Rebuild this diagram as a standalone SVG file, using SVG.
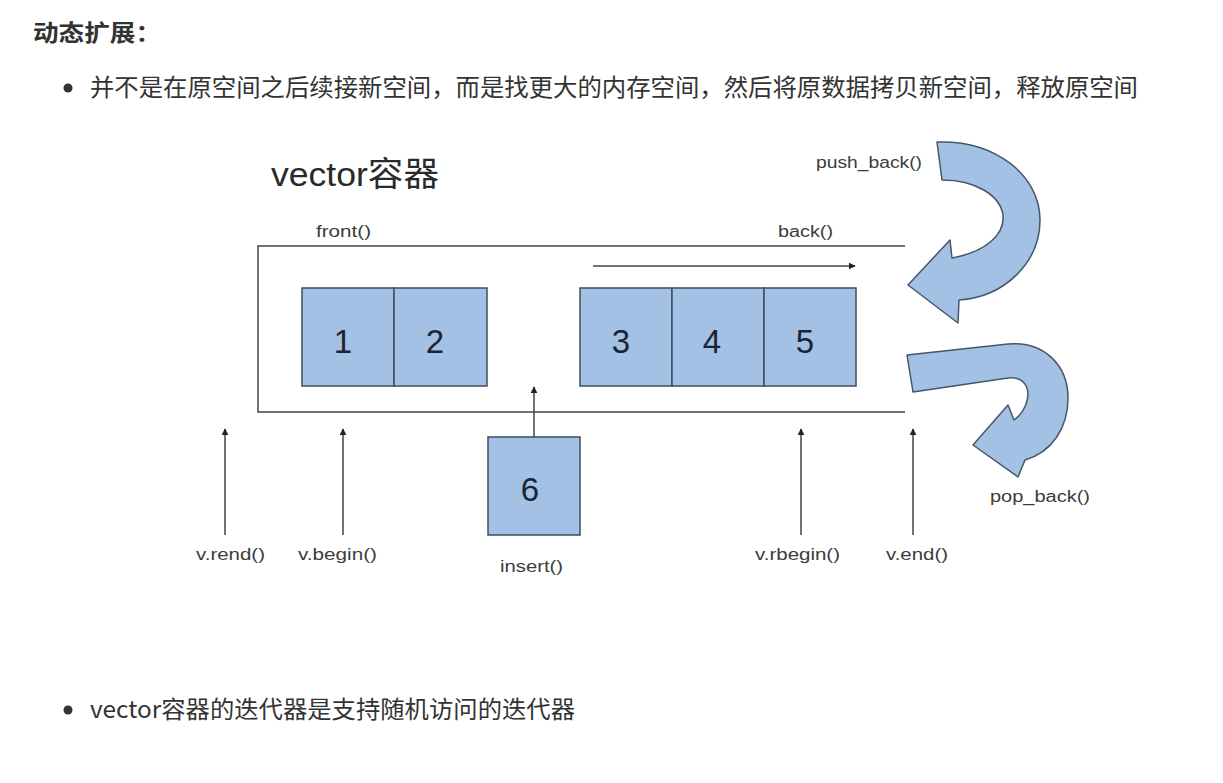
<svg xmlns="http://www.w3.org/2000/svg" width="1223" height="783" viewBox="0 0 1223 783">
<style>
.cn{font-family:"Noto Sans CJK SC","Noto Sans",sans-serif;fill:#333;}
.lbl{font-family:"Liberation Sans",Arial,sans-serif;font-size:16px;fill:#3c3c3c;}
.num{font-family:"Liberation Sans",Arial,sans-serif;font-size:33px;fill:#1c2433;text-anchor:middle;}
.cell{fill:#a3c1e4;stroke:#3f4c5c;stroke-width:1.5;}
.ln{stroke:#444;stroke-width:1.5;fill:none;}
.big{fill:#a3c1e4;stroke:#46566a;stroke-width:1.5;stroke-linejoin:round;}
</style>
<defs>
<marker id="ah" viewBox="0 0 10 10" refX="9" refY="5" markerWidth="7" markerHeight="7" markerUnits="userSpaceOnUse" orient="auto">
<path d="M0,0 L10,5 L0,10 Z" fill="#222"/>
</marker>
</defs>
<rect width="1223" height="783" fill="#fff"/>

<g id="heading">
<text class="cn" x="33" y="41" font-size="23" font-weight="bold" textLength="128" lengthAdjust="spacingAndGlyphs">动态扩展：</text>
<circle cx="68" cy="88" r="4.5" fill="#333"/>
<text class="cn" x="90" y="96" font-size="24" textLength="1048" lengthAdjust="spacingAndGlyphs">并不是在原空间之后续接新空间，而是找更大的内存空间，然后将原数据拷贝新空间，释放原空间</text>
</g>

<g id="title">
<text x="271" y="186" font-family="Liberation Sans, Arial, Noto Sans CJK SC, sans-serif" font-size="34" fill="#2a2a2a" textLength="168" lengthAdjust="spacingAndGlyphs">vector容器</text>
</g>

<g id="frame">
<path class="ln" d="M905,246 L258,246 L258,412 L905,412"/>
</g>

<g id="cell-1"><rect class="cell" x="302" y="288" width="92" height="98"/><text class="num" x="343" y="353">1</text></g>
<g id="cell-2"><rect class="cell" x="394" y="288" width="93" height="98"/><text class="num" x="435" y="353">2</text></g>
<g id="cell-3"><rect class="cell" x="580" y="288" width="92" height="98"/><text class="num" x="621" y="353">3</text></g>
<g id="cell-4"><rect class="cell" x="672" y="288" width="92" height="98"/><text class="num" x="712" y="353">4</text></g>
<g id="cell-5"><rect class="cell" x="764" y="288" width="92" height="98"/><text class="num" x="805" y="353">5</text></g>
<g id="cell-6"><rect class="cell" x="488" y="437" width="92" height="98"/><text class="num" x="530" y="501">6</text></g>

<g id="push-back-arrow">
<path class="big" d="M937,142 C995,140 1040,175 1040,220 C1040,262 1005,297 959,300 L958,323 L908,285 L950,240 L952,258 C985,252 1005,235 1003,215 C1000,195 975,180 942,180 Z"/>
</g>
<g id="pop-back-arrow">
<path class="big" d="M907,355 L1008,344 C1045,341 1068,366 1068,398 C1068,428 1052,452 1025,460 L1018,477 L973,445 L1008,405 L1014,420 C1025,412 1030,398 1027,388 C1024,380 1018,377 1008,378 L913,392 Z"/>
</g>

<g id="connectors">
<line class="ln" x1="593" y1="266" x2="855" y2="266" marker-end="url(#ah)"/>
<line class="ln" x1="534" y1="437" x2="534" y2="387" marker-end="url(#ah)"/>
<line class="ln" x1="225" y1="535" x2="225" y2="429" marker-end="url(#ah)"/>
<line class="ln" x1="343" y1="535" x2="343" y2="429" marker-end="url(#ah)"/>
<line class="ln" x1="801" y1="535" x2="801" y2="429" marker-end="url(#ah)"/>
<line class="ln" x1="913" y1="535" x2="913" y2="429" marker-end="url(#ah)"/>
</g>

<g id="labels">
<text class="lbl" x="316" y="237" textLength="55" lengthAdjust="spacingAndGlyphs">front()</text>
<text class="lbl" x="778" y="237" textLength="55" lengthAdjust="spacingAndGlyphs">back()</text>
<text class="lbl" x="816" y="168" textLength="106" lengthAdjust="spacingAndGlyphs">push_back()</text>
<text class="lbl" x="990" y="502" textLength="100" lengthAdjust="spacingAndGlyphs">pop_back()</text>
<text class="lbl" x="196" y="560" textLength="69" lengthAdjust="spacingAndGlyphs">v.rend()</text>
<text class="lbl" x="298" y="560" textLength="79" lengthAdjust="spacingAndGlyphs">v.begin()</text>
<text class="lbl" x="500" y="572" textLength="63" lengthAdjust="spacingAndGlyphs">insert()</text>
<text class="lbl" x="755" y="560" textLength="85" lengthAdjust="spacingAndGlyphs">v.rbegin()</text>
<text class="lbl" x="886" y="560" textLength="62" lengthAdjust="spacingAndGlyphs">v.end()</text>
</g>

<g id="footer">
<circle cx="68" cy="710" r="4.5" fill="#333"/>
<text class="cn" x="90" y="718" font-size="24" textLength="485" lengthAdjust="spacingAndGlyphs">vector容器的迭代器是支持随机访问的迭代器</text>
</g>
</svg>
